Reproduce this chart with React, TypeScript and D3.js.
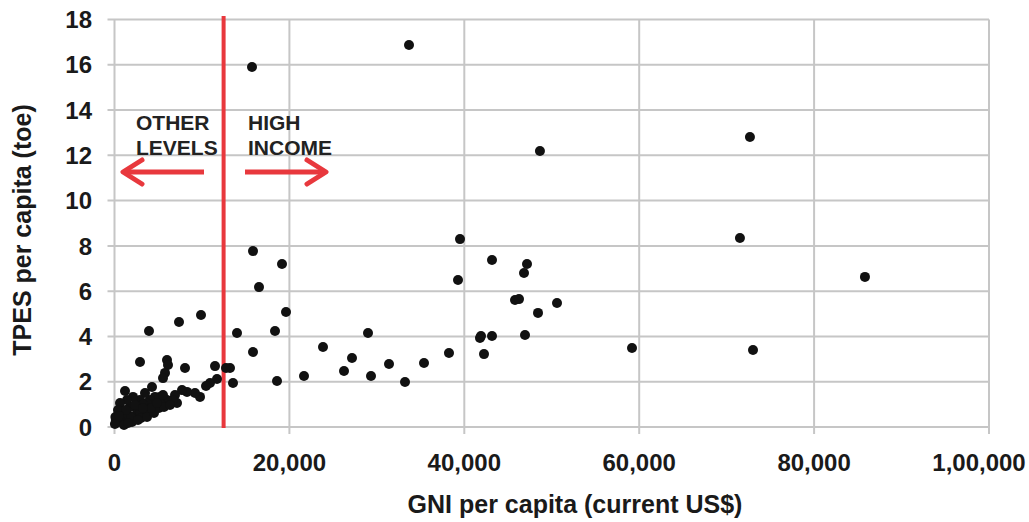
import React from "react";
import * as d3 from "d3";

const gni: number[] = [
  15723, 33676, 48650, 72663, 71520, 85815, 59176, 73012,
  39508, 43167, 47169, 46826, 39280, 45797, 46254, 50600, 48428, 41907, 43167, 46940, 41793, 38248, 42251, 35392, 33219,
  15837, 19153, 16523, 19611, 14008, 18354, 28988, 15837, 23842, 27158, 26243, 31389, 13207, 13550, 18582, 21669, 29331,
  9891, 7376, 3945, 2916, 6003, 6118, 8062, 11492, 12750, 5775, 5546, 11721, 10920, 10463, 9777, 9205, 8290, 7719,
  6918, 7147, 6690, 6003, 5203, 5203, 4631, 4402, 4288, 4059, 3716, 3488, 2916, 2573, 2116, 1772, 1429, 1201, 629, 629,
  100, 400, 972, 2116, 2916, 3716, 1544, 150, 50, 1087, 2001, 3030, 3716, 4517, 5089, 5660, 4174, 1887, 2573, 3259,
  400, 1315, 2344, 3259, 4860, 5546, 6347, 1544, 2687, 515,
];
const tpes: number[] = [
  15.9, 16.87, 12.19, 12.81, 8.35, 6.63, 3.49, 3.4,
  8.3, 7.38, 7.2, 6.8, 6.49, 5.61, 5.65, 5.48, 5.04, 4.02, 4.02, 4.06, 3.93, 3.27, 3.22, 2.83, 1.99,
  7.77, 7.2, 6.18, 5.08, 4.15, 4.24, 4.15, 3.31, 3.53, 3.05, 2.47, 2.78, 2.61, 1.94, 2.03, 2.25, 2.25,
  4.95, 4.64, 4.24, 2.87, 2.96, 2.74, 2.61, 2.69, 2.61, 2.39, 2.16, 2.12, 1.94, 1.81, 1.33, 1.5, 1.55, 1.63,
  1.41, 1.06, 1.19, 1.19, 1.33, 1.06, 1.33, 0.88, 1.77, 1.19, 1.06, 1.5, 1.19, 0.75, 1.33, 0.88, 1.19, 1.59, 1.06, 0.62,
  0.44, 0.22, 0.31, 0.44, 0.62, 0.66, 0.53, 0.31, 0.13, 0.09, 0.22, 0.4, 0.44, 0.62, 0.84, 0.88, 0.84, 0.44, 0.95, 1.0,
  0.75, 0.75, 0.97, 0.84, 1.06, 1.41, 0.97, 0.18, 0.31, 0.49,
];
const xTicks: number[] = [0, 20000, 40000, 60000, 80000, 100000];
const xTickLabels: string[] = ["0", "20,000", "40,000", "60,000", "80,000", "1,00,000"];
const yTicks: number[] = [0, 2, 4, 6, 8, 10, 12, 14, 16, 18];
const threshold = 12476;
const leftLabel: string[] = ["OTHER", "LEVELS"];
const rightLabel: string[] = ["HIGH", "INCOME"];

const W = 1029;
const H = 522;
const FONT = "'Liberation Sans', Arial, Helvetica, sans-serif";
const RED = "#e8383d";
const GRID = "#c6c6c6";

export default function App() {
  const x = d3.scaleLinear().domain([0, 100000]).range([114.5, 989]);
  const y = d3.scaleLinear().domain([0, 18]).range([427, 19.5]);
  const x0 = x(0);
  const x1 = x(100000);
  const yTop = y(18);
  const yBot = y(0);
  const points = d3.zip(gni, tpes);
  const arrowY = 172;
  const leftArrow = d3.line()([[204, arrowY], [124, arrowY]]);
  const rightArrow = d3.line()([[245, arrowY], [325, arrowY]]);

  return (
    <svg
      width={W}
      height={H}
      style={{ position: "absolute", left: 0, top: 0, background: "#fff" }}
      fontFamily={FONT}
    >
      {/* grid */}
      {yTicks.map((t) => (
        <line key={"h" + t} x1={x0 - 7} x2={x1} y1={y(t)} y2={y(t)} stroke={GRID} strokeWidth={2} />
      ))}
      {xTicks.map((t) => (
        <line key={"v" + t} x1={x(t)} x2={x(t)} y1={yTop} y2={yBot + 7} stroke={GRID} strokeWidth={2} />
      ))}
      {/* y tick labels */}
      {yTicks.map((t) => (
        <text key={"yl" + t} x={92} y={y(t)} dy="0.36em" textAnchor="end" fontSize={24} fontWeight="bold" fill="#1a1a1a">
          {t}
        </text>
      ))}
      {/* x tick labels */}
      {xTicks.map((t, i) => (
        <text key={"xl" + t} x={Math.min(x(t), 979)} y={471} textAnchor="middle" fontSize={24} fontWeight="bold" fill="#1a1a1a">
          {xTickLabels[i]}
        </text>
      ))}
      {/* axis titles */}
      <text x={575} y={513} textAnchor="middle" fontSize={25} fontWeight="bold" fill="#1a1a1a">
        GNI per capita (current US$)
      </text>
      <text transform="translate(31,230) rotate(-90)" textAnchor="middle" fontSize={25} fontWeight="bold" fill="#1a1a1a">
        TPES per capita (toe)
      </text>
      {/* threshold line */}
      <line x1={x(threshold)} x2={x(threshold)} y1={16} y2={yBot + 1} stroke={RED} strokeWidth={4} />
      {/* labels */}
      {leftLabel.map((s, i) => (
        <text key={"ll" + i} x={136} y={130 + i * 25} fontSize={21} fontWeight="bold" fill="#222">
          {s}
        </text>
      ))}
      {rightLabel.map((s, i) => (
        <text key={"rl" + i} x={248} y={130 + i * 25} fontSize={21} fontWeight="bold" fill="#222">
          {s}
        </text>
      ))}
      {/* arrows */}
      <path d={leftArrow ?? ""} stroke={RED} strokeWidth={5} fill="none" />
      <path d={`M142,${arrowY - 12} L123,${arrowY} L142,${arrowY + 12}`} stroke={RED} strokeWidth={5} fill="none" strokeLinecap="round" strokeLinejoin="round" />
      <path d={rightArrow ?? ""} stroke={RED} strokeWidth={5} fill="none" />
      <path d={`M307,${arrowY - 12} L326,${arrowY} L307,${arrowY + 12}`} stroke={RED} strokeWidth={5} fill="none" strokeLinecap="round" strokeLinejoin="round" />
      {/* points */}
      {points.map(([gv, tv], i) => (
        <circle key={"p" + i} cx={x(gv)} cy={y(tv)} r={5} fill="#111" />
      ))}
    </svg>
  );
}
